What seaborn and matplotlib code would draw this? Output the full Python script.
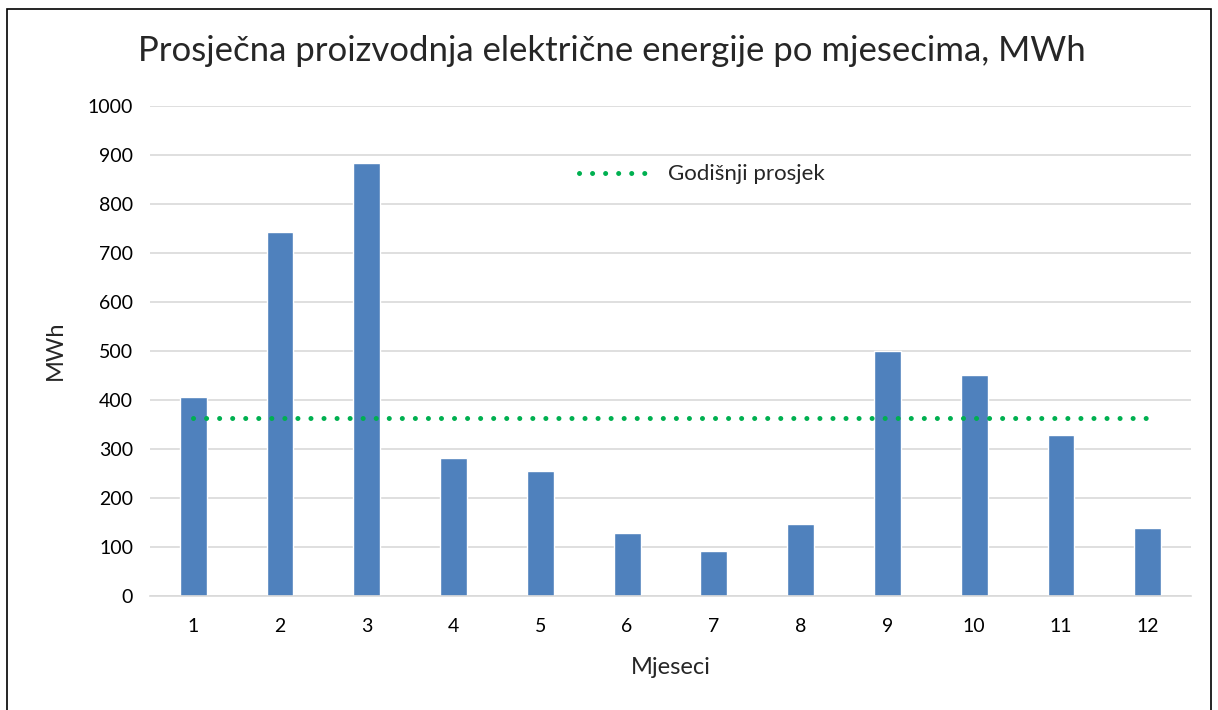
import numpy as np
import pandas as pd
import seaborn as sns
import matplotlib.pyplot as plt
from matplotlib.patches import Rectangle

# mjesecna proizvodnja, MWh
mjeseci = [str(m) for m in range(1, 13)]
proizvodnja = [406, 742, 884, 281, 255, 128, 92, 146, 500, 451, 329, 139]
prosjek = np.mean(proizvodnja)

df = pd.DataFrame({'Mjeseci': mjeseci, 'MWh': proizvodnja})

sns.set_style('white')
plt.rcParams['font.family'] = ['Lato', 'DejaVu Sans']

fig = plt.figure(figsize=(12.18, 7.10), dpi=100)
ax = fig.add_axes([0.123, 0.161, 0.855, 0.690])

sns.barplot(data=df, x='Mjeseci', y='MWh', color='#4f81bd', width=0.31,
            saturation=1, ax=ax)
ax.plot(np.arange(len(mjeseci)), [prosjek] * len(mjeseci), color='#00b050',
        lw=3.6, linestyle=(0, (0.01, 2.6)), dash_capstyle='round',
        label='Godišnji prosjek')

ax.set_ylim(0, 1000)
ax.set_yticks(range(0, 1001, 100))
ax.set_xlim(-0.5, 11.5)
ax.grid(axis='y', color='#d9d9d9', lw=1.2)
ax.set_axisbelow(True)
for s in ['top', 'right', 'left']:
    ax.spines[s].set_visible(False)
ax.spines['bottom'].set_color('#d9d9d9')
ax.spines['bottom'].set_linewidth(1.2)
ax.tick_params(axis='both', length=0, labelsize=14, colors='black')
ax.tick_params(axis='x', pad=16)
ax.tick_params(axis='y', pad=12)

ax.set_xlabel('Mjeseci', fontsize=17, labelpad=16)
ax.set_ylabel('MWh', fontsize=17, labelpad=16)
fig.text(0.502, 0.928, 'Prosječna proizvodnja električne energije po mjesecima, MWh',
         ha='center', va='center', fontsize=25)

ax.legend(loc='center', bbox_to_anchor=(0.53, 0.86), frameon=False,
          fontsize=16, handlelength=3.5, handletextpad=0.5)

fig.patches.append(Rectangle((0.006, -0.05), 0.988, 1.038, transform=fig.transFigure,
                             fill=False, edgecolor='black', lw=1.2))

fig.savefig('out.png', dpi=100, facecolor='white')
